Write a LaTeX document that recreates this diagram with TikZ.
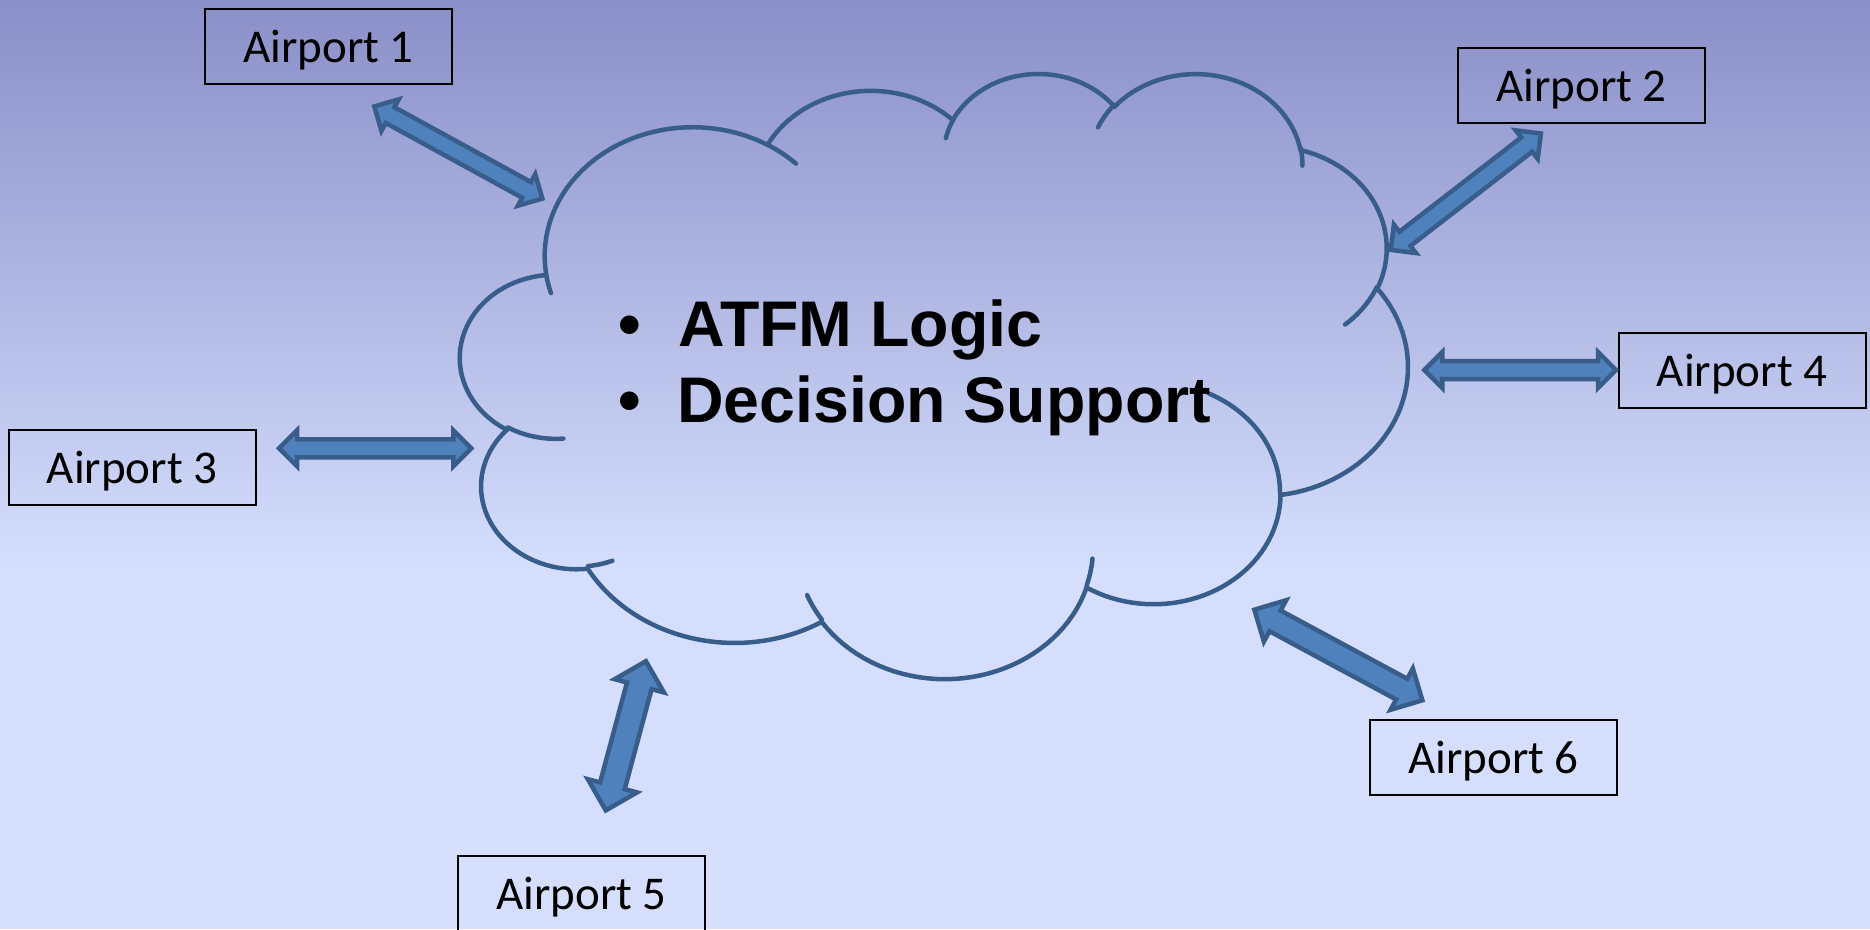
\documentclass[tikz,border=0pt]{standalone}
\usepackage{fontspec}
\usetikzlibrary{calc}
\newfontfamily\carlito{Carlito}
\newfontfamily\lsans{Liberation Sans}

\definecolor{bgtop}{RGB}{138,143,200}
\definecolor{bgbot}{RGB}{213,223,253}
\definecolor{accentfill}{RGB}{79,129,189}
\definecolor{accentline}{RGB}{56,93,138}

% elliptical arc in DrawingML style: radii, start angle and sweep given as
% visual angles; continues from (\ooX,\ooY) and leaves its end point there
\newcommand\ooarc[4]{%
  \pgfmathsetmacro\ooTs{atan2((#1)*sin(#3),(#2)*cos(#3))}%
  \pgfmathsetmacro\ooTe{atan2((#1)*sin((#3)+(#4)),(#2)*cos((#3)+(#4)))}%
  \pgfmathsetmacro\ooD{\ooTe-\ooTs}%
  \pgfmathsetmacro\ooTe{ifthenelse((#4)>0,ifthenelse(\ooD<0,\ooTe+360,\ooTe),ifthenelse(\ooD>0,\ooTe-360,\ooTe))}%
  \pgfmathsetmacro\ooCx{\ooX-(#1)*cos(\ooTs)}%
  \pgfmathsetmacro\ooCy{\ooY-(#2)*sin(\ooTs)}%
  \draw[cloudline] plot[domain=\ooTs:\ooTe,samples=40,variable=\t]
    ({\ooCx+(#1)*cos(\t)},{\ooCy+(#2)*sin(\t)});%
  \pgfmathsetmacro\ooX{\ooCx+(#1)*cos(\ooTe)}%
  \pgfmathsetmacro\ooY{\ooCy+(#2)*sin(\ooTe)}%
}
\newcommand\oomove[2]{\def\ooX{#1}\def\ooY{#2}}

% double-headed block arrow between two named tips; #1 = body height
\newcommand\dblarrow[3][36]{%
  \pgfmathsetmacro\hh{#1/2}\pgfmathsetmacro\hs{#1/4}%
  \coordinate (ta) at ($(#2)!3pt!(#3)$);
  \coordinate (tb) at ($(#3)!3pt!(#2)$);
  \coordinate (ha) at ($(ta)!\hh pt!(tb)$);
  \coordinate (hb) at ($(tb)!\hh pt!(ta)$);
  \draw[blockarrow] (ta) -- ($(ha)!\hh pt!90:(tb)$) -- ($(ha)!\hs pt!90:(tb)$)
    -- ($(hb)!\hs pt!-90:(ta)$) -- ($(hb)!\hh pt!-90:(ta)$) -- (tb)
    -- ($(hb)!\hh pt!90:(ta)$) -- ($(hb)!\hs pt!90:(ta)$)
    -- ($(ha)!\hs pt!-90:(tb)$) -- ($(ha)!\hh pt!-90:(tb)$) -- cycle;
}

\tikzset{
  cloudline/.style={draw=accentline, line width=4.5pt, line cap=round},
  blockarrow/.style={fill=accentfill, draw=accentline, line width=4.5pt, line join=miter},
  airport/.style={draw=black, line width=2pt, minimum width=247pt, minimum height=75.5pt,
    inner sep=0pt, font=\carlito\fontsize{47pt}{56pt}\selectfont,
    text height=31pt, text depth=0pt},
  maintext/.style={inner sep=0pt, font=\lsans\bfseries\fontsize{64.5pt}{77pt}\selectfont},
}

\begin{document}
\begin{tikzpicture}[x=1pt,y=-1pt]
\useasboundingbox (0,0) rectangle (1870,929);
\clip (0,0) rectangle (1870,929);

% background
\fill[top color=bgtop, bottom color=bgbot] (0,0) rectangle (1870,571);
\fill[bgbot] (0,570) rectangle (1870,929);

% cloud outline
\begin{scope}[shift={(460.5,72)}, x=2.1923pt, y=-1.4004pt]
  \oomove{39.00}{143.70}
  \ooarc{67.53}{91.90}{-190.4875}{123.7805}
  \ooarc{53.33}{72.67}{-144.1024}{89.9452}
  \ooarc{43.65}{59.45}{-145.8079}{99.7230}
  \ooarc{48.57}{65.95}{-130.9861}{117.2417}
  \ooarc{53.33}{72.73}{-78.7089}{109.0269}
  \ooarc{67.75}{92.20}{-46.2673}{130.2690}
  \ooarc{57.85}{78.67}{0.6250}{114.0333}
  \ooarc{67.52}{92.15}{22.4516}{115.1726}
  \ooarc{77.20}{105.43}{66.2426}{75.7110}
  \ooarc{43.60}{59.18}{-274.9421}{146.7356}
  \ooarc{43.45}{59.45}{-246.8285}{152.5189}
  % inner strokes
  \oomove{46.93}{261.77}\ooarc{43.45}{59.45}{86.7420}{26.4295}
  \oomove{69.28}{348.99}\ooarc{43.60}{59.18}{73.6105}{11.4475}
  \oomove{164.78}{390.90}\ooarc{67.52}{92.15}{137.6242}{14.0811}
  \oomove{288.27}{347.51}\ooarc{67.52}{92.15}{6.4533}{15.9984}
  \oomove{341.29}{229.54}\ooarc{57.85}{78.67}{-70.2924}{70.9174}
  \oomove{417.98}{153.54}\ooarc{53.33}{72.73}{30.3180}{27.7515}
  \oomove{383.24}{54.26}\ooarc{48.57}{65.95}{-13.7443}{14.8589}
  \oomove{290.78}{39.52}\ooarc{48.57}{65.95}{-149.1815}{18.1954}
  \oomove{221.41}{47.20}\ooarc{43.65}{59.45}{-163.4943}{17.6864}
  \oomove{140.00}{51.92}\ooarc{67.53}{91.90}{-66.7070}{12.3194}
  \oomove{41.27}{157.89}\ooarc{67.53}{91.90}{157.6544}{11.8582}
\end{scope}

% cloud text
\node[maintext, anchor=base] (b1) at (629.5,346) {•};
\node[maintext, anchor=base west] (l1) at (678,346) {ATFM Logic};
\node[maintext, anchor=base] (b2) at (629.5,422) {•};
\node[maintext, anchor=base west] (l2) at (677,422) {Decision Support};

% airports
\node[airport] (ap1) at (328.5,46.5) {Airport 1};
\node[airport] (ap2) at (1581.5,85.5) {Airport 2};
\node[airport] (ap3) at (132,467.5) {Airport 3};
\node[airport] (ap4) at (1742,370.5) {Airport 4};
\node[airport] (ap5) at (581.5,894) {Airport 5};
\node[airport] (ap6) at (1493.5,757.5) {Airport 6};

% arrow tips
\coordinate (a1o) at (371.7,105);   \coordinate (a1i) at (545,200);
\coordinate (a2o) at (1543.3,131.7); \coordinate (a2i) at (1388.3,251.7);
\coordinate (a3o) at (276,448.3);   \coordinate (a3i) at (474.3,448.3);
\coordinate (a4o) at (1619,370);    \coordinate (a4i) at (1421.3,370);
\coordinate (a5o) at (605,813.3);   \coordinate (a5i) at (646.7,658.3);
\coordinate (a6o) at (1425,701.7);  \coordinate (a6i) at (1251.7,608.3);

\dblarrow{a1o}{a1i}
\dblarrow{a2o}{a2i}
\dblarrow{a3o}{a3i}
\dblarrow{a4o}{a4i}
\dblarrow[51]{a5o}{a5i}
\dblarrow[47]{a6o}{a6i}
\end{tikzpicture}
\end{document}
